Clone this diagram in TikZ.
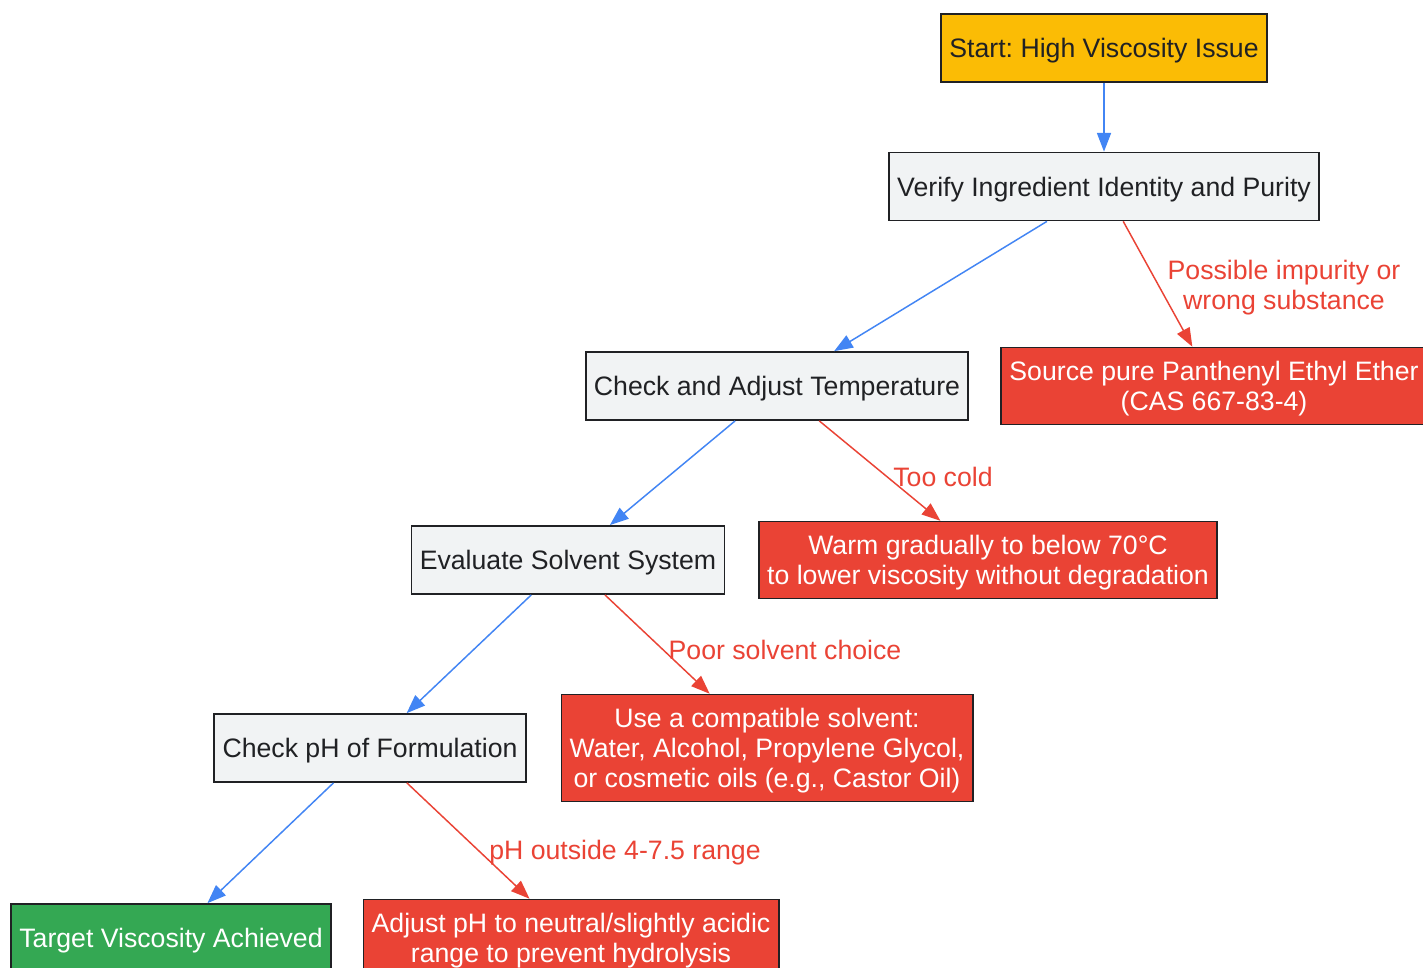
\documentclass[tikz,border=0pt]{standalone}
\usepackage{fontspec}
\setmainfont{Liberation Sans}
\usetikzlibrary{arrows.meta}
\definecolor{startfill}{HTML}{FBBC05}
\definecolor{stepfill}{HTML}{F1F3F4}
\definecolor{badfill}{HTML}{EA4335}
\definecolor{goodfill}{HTML}{34A853}
\definecolor{okline}{HTML}{4285F4}
\definecolor{inktext}{HTML}{202124}
\frenchspacing
\begin{document}
\begin{tikzpicture}[x=0.75pt,y=-0.75pt,
  box/.style={draw=inktext,line width=1.3pt,inner xsep=6.2pt,inner ysep=10.3pt,
    text depth=0pt,minimum height=51pt,align=center,font=\fontsize{20}{22.5}\selectfont},
  stepbox/.style={box,fill=stepfill,text=inktext},
  startbox/.style={box,fill=startfill,text=inktext},
  fixbox/.style={box,fill=badfill,text=white},
  endbox/.style={box,fill=goodfill,text=white},
  yes/.style={draw=okline,line width=1.1pt,-{Triangle[length=14pt,width=10.5pt]}},
  no/.style={draw=badfill,line width=1.1pt,-{Triangle[length=14pt,width=10.5pt]}},
  elabel/.style={text=badfill,align=center,font=\fontsize{20}{22.5}\selectfont}]
\useasboundingbox (0,0) rectangle (1423,967);
\clip (0,0) rectangle (1423,967);
\fill[white] (0,0) rectangle (1423,967);
% main chain
\node[startbox] (start) at (1104,48) {Start: High Viscosity Issue};
\node[stepbox] (verify) at (1104,186.5) {Verify Ingredient Identity and Purity};
\node[stepbox] (temp) at (777,386) {Check and Adjust Temperature};
\node[stepbox] (solvent) at (568,560) {Evaluate Solvent System};
\node[stepbox] (ph) at (370,748) {Check pH of Formulation};
\node[endbox] (target) at (171,938) {Target Viscosity Achieved};
% fixes
\node[fixbox] (source) at (1214,386) {Source pure Panthenyl Ethyl Ether\\(CAS 667-83-4)};
\node[fixbox] (warm) at (988,560) {Warm gradually to below 70°C\\to lower viscosity without degradation};
\node[fixbox] (use) at (767,748) {Use a compatible solvent:\\Water, Alcohol, Propylene Glycol,\\or cosmetic oils (e.g., Castor Oil)};
\node[fixbox] (adjust) at (571,938) {Adjust pH to neutral/slightly acidic\\range to prevent hydrolysis};
% connectors
\draw[yes] (start) -- (verify);
\draw[yes] (verify) -- (temp);
\draw[yes] (temp) -- (solvent);
\draw[yes] (solvent) -- (ph);
\draw[yes] (ph) -- (target);
\draw[no] (verify) -- (source);
\draw[no] (temp) -- (warm);
\draw[no] (solvent) -- (use);
\draw[no] (ph) -- (adjust);
% labels
\node[elabel] (l1) at (1284,288) {Possible impurity or\\wrong substance};
\node[elabel] (l2) at (943,477) {Too cold};
\node[elabel] (l3) at (785,650) {Poor solvent choice};
\node[elabel] (l4) at (625,853) {pH outside 4-7.5 range};
\end{tikzpicture}
\end{document}
